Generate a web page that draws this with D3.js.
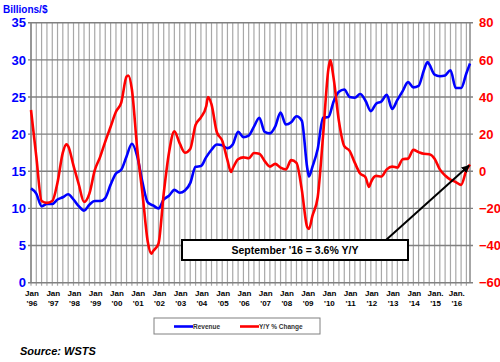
<!DOCTYPE html>
<html>
<head>
<meta charset="utf-8">
<script src="https://cdnjs.cloudflare.com/ajax/libs/d3/7.8.5/d3.min.js"></script>
<style>
  body { margin: 0; background: #fff; }
  svg { display: block; font-family: Arial, "Liberation Sans", sans-serif; }
</style>
</head>
<body>
<div id="chart-container"></div>
<script>
"use strict"

// revenue, billions of $ (3 month average)
const revDates = ["1996-01","1996-04","1996-07","1996-10","1997-01","1997-04","1997-07","1997-10",
  "1998-01","1998-04","1998-07","1998-10","1999-01","1999-04","1999-07","1999-10",
  "2000-01","2000-04","2000-07","2000-10","2001-01","2001-04","2001-07","2001-10",
  "2002-01","2002-04","2002-07","2002-10","2003-01","2003-04","2003-07","2003-10",
  "2004-01","2004-04","2004-07","2004-10","2005-01","2005-04","2005-07","2005-10",
  "2006-01","2006-04","2006-07","2006-10","2007-01","2007-04","2007-07","2007-10",
  "2008-01","2008-04","2008-07","2008-10","2009-01","2009-02","2009-04","2009-07","2009-10",
  "2010-01","2010-04","2010-07","2010-10","2011-01","2011-04","2011-07","2011-10",
  "2012-01","2012-04","2012-07","2012-10","2013-01","2013-04","2013-07","2013-10",
  "2014-01","2014-04","2014-07","2014-09","2014-10","2015-01","2015-04","2015-07","2015-10",
  "2016-01","2016-04","2016-07","2016-09"];
const revValues = [12.7,12.0,10.3,10.6,10.6,11.2,11.5,11.9,
  11.2,10.3,9.7,10.5,11.0,11.0,11.4,13.2,
  14.7,15.2,17.0,18.7,17.0,13.5,10.8,10.4,
  10.0,11.2,11.7,12.5,12.1,12.4,13.4,15.6,
  15.7,16.9,17.9,18.6,18.5,18.1,18.6,20.3,
  19.6,19.8,21.0,22.2,20.3,20.1,21.0,22.9,
  21.3,21.6,22.4,21.8,15.5,14.3,15.6,18.0,22.2,
  22.3,24.4,25.7,26.0,25.0,24.9,25.4,24.5,
  23.1,24.1,24.4,25.3,23.4,24.6,25.8,27.0,
  26.3,26.5,28.6,29.7,29.4,28.0,27.8,27.9,28.6,
  26.2,26.2,28.2,29.5];

// year over year % change
const chgDates = ["1996-01","1996-04","1996-07","1996-10","1997-01","1997-04","1997-07","1997-09","1997-10",
  "1998-01","1998-04","1998-07","1998-10","1999-01","1999-04","1999-07","1999-10",
  "2000-01","2000-04","2000-07","2000-08","2000-10","2001-01","2001-04","2001-07","2001-09","2001-10",
  "2002-01","2002-04","2002-07","2002-10","2003-01","2003-04","2003-07","2003-10",
  "2004-01","2004-04","2004-05","2004-07","2004-10","2005-01","2005-04","2005-06","2005-07","2005-10",
  "2006-01","2006-04","2006-07","2006-10","2007-01","2007-04","2007-07","2007-10",
  "2008-01","2008-04","2008-07","2008-10","2009-01","2009-02","2009-04","2009-07","2009-10",
  "2010-01","2010-02","2010-04","2010-07","2010-10","2011-01","2011-04","2011-07","2011-10",
  "2011-12","2012-01","2012-04","2012-07","2012-10","2013-01","2013-04","2013-07","2013-10",
  "2014-01","2014-04","2014-07","2014-10","2015-01","2015-04","2015-07","2015-10",
  "2016-01","2016-04","2016-07","2016-09"];
const chgValues = [33,8,-16,-17,-16,-6,10,14.5,13.5,
  3,-7,-16.5,-12,0.5,7.5,16,24,
  32,37,51,51.6,44,12,-12,-38,-44.4,-43,
  -39,-12,10,21.5,15,10,12,25,
  29,35,40,36,21,16.5,6,-0.4,1.5,6.5,
  7.5,7,9.8,9.4,5.5,2.5,4,2,
  1,6,4.5,-10,-30,-31,-24,-14,19,
  55,59.7,50,27,13.5,11,4.5,-1.2,-3.2,
  -8.5,-6,-2.5,-2.8,1,2.5,2,6.5,6.8,
  11.5,10.3,9.4,9.2,6.8,1,-2.3,-4.5,
  -5.8,-7.3,0.5,3.6];

const yearLabels = ["'96","'97","'98","'99","'00","'01","'02","'03","'04","'05","'06",
  "'07","'08","'09","'10","'11","'12","'13","'14","'15","'16"];
const monthLabels = ["Jan","Jan","Jan","Jan","Jan","Jan","Jan","Jan","Jan","Jan","Jan",
  "Jan","Jan","Jan","Jan","Jan","Jan","Jan","Jan","Jan.","Jan."];
const leftTicks = [0,5,10,15,20,25,30,35];
const rightTicks = [-60,-40,-20,0,20,40,60,80];
const noteText = "September '16 = 3.6% Y/Y";

document.addEventListener('DOMContentLoaded', function(){
  drawChart();
});

function drawChart(){
  let svgWidth = 500;
  let svgHeight = 362;
  let left = 31, right = 470, top = 22.7, bottom = 282.7;

  let parse = d3.timeParse("%Y-%m");

  var svg = d3.select('#chart-container')
    .append('svg')
    .attr('width', svgWidth)
    .attr('height', svgHeight);

  let xScale = d3.scaleTime()
    .domain([parse("1996-01"), parse("2016-09")])
    .range([left, right]);
  let yLeft = d3.scaleLinear().domain([0, 35]).range([bottom, top]);
  let yRight = d3.scaleLinear().domain([-60, 80]).range([bottom, top]);

  // vertical grid, one line each quarter
  let quarters = d3.timeMonth.every(3).range(parse("1996-01"), parse("2016-10"));
  svg.append("g")
    .selectAll("line")
    .data(quarters)
    .enter()
    .append("line")
    .attr("x1", d => xScale(d))
    .attr("x2", d => xScale(d))
    .attr("y1", top)
    .attr("y2", bottom + 3)
    .attr("stroke", "#a8a8a8")
    .attr("stroke-width", 1.2);

  // horizontal grid
  svg.append("g")
    .selectAll("line")
    .data(leftTicks)
    .enter()
    .append("line")
    .attr("x1", left - 3)
    .attr("x2", right + 3)
    .attr("y1", d => yLeft(d))
    .attr("y2", d => yLeft(d))
    .attr("stroke", "#808080")
    .attr("stroke-width", 1.4);

  // axis lines
  svg.append("line").attr("x1", left).attr("x2", left).attr("y1", top).attr("y2", bottom)
    .attr("stroke", "#808080").attr("stroke-width", 1.4);
  svg.append("line").attr("x1", right).attr("x2", right).attr("y1", top).attr("y2", bottom)
    .attr("stroke", "#808080").attr("stroke-width", 1.4);

  //Left axis labels
  const yAxisL = d3.axisLeft(yLeft).tickValues(leftTicks).tickSize(0).tickPadding(4);
  let gl = svg.append("g")
    .attr("transform", "translate(" + (left - 1) + ", 0)")
    .call(yAxisL);
  gl.select(".domain").remove();
  gl.selectAll("text")
    .attr("fill", "#0000ff")
    .attr("font-size", 13)
    .attr("font-weight", "bold")
    .attr("font-family", "Arial, 'Liberation Sans', sans-serif");

  //Right axis labels
  const yAxisR = d3.axisRight(yRight).tickValues(rightTicks).tickSize(0).tickPadding(9);
  let gr = svg.append("g")
    .attr("transform", "translate(" + right + ", 0)")
    .call(yAxisR);
  gr.select(".domain").remove();
  gr.selectAll("text")
    .attr("fill", "#ff0000")
    .attr("font-size", 13)
    .attr("font-weight", "bold")
    .attr("font-family", "Arial, 'Liberation Sans', sans-serif");

  svg.append("text")
    .attr("x", 3)
    .attr("y", 13)
    .attr("fill", "#0000ff")
    .attr("font-size", 10)
    .attr("font-weight", "bold")
    .text("Billions/$");

  // x labels, two lines
  let janDates = yearLabels.map((d, i) => parse((1996 + i) + "-01"));
  let xl = svg.append("g");
  xl.selectAll("text.m")
    .data(janDates)
    .enter()
    .append("text")
    .attr("class", "m")
    .attr("x", d => xScale(d) + 1)
    .attr("y", 296)
    .attr("text-anchor", "middle")
    .attr("font-size", 8)
    .attr("font-weight", "bold")
    .text((d, i) => monthLabels[i]);
  xl.selectAll("text.y")
    .data(janDates)
    .enter()
    .append("text")
    .attr("class", "y")
    .attr("x", d => xScale(d) + 1)
    .attr("y", 305.5)
    .attr("text-anchor", "middle")
    .attr("font-size", 8)
    .attr("font-weight", "bold")
    .text((d, i) => yearLabels[i]);

  // lines
  let revData = revDates.map((d, i) => ({ date: parse(d), value: revValues[i] }));
  let chgData = chgDates.map((d, i) => ({ date: parse(d), value: chgValues[i] }));

  let revLine = d3.line()
    .x(d => xScale(d.date))
    .y(d => yLeft(d.value))
    .curve(d3.curveMonotoneX);
  let chgLine = d3.line()
    .x(d => xScale(d.date))
    .y(d => yRight(d.value))
    .curve(d3.curveMonotoneX);

  svg.append("path")
    .datum(revData)
    .attr("d", revLine)
    .attr("fill", "none")
    .attr("stroke", "#0000ff")
    .attr("stroke-width", 2.6)
    .attr("stroke-linejoin", "round");

  svg.append("path")
    .datum(chgData)
    .attr("d", chgLine)
    .attr("fill", "none")
    .attr("stroke", "#ff0000")
    .attr("stroke-width", 2.6)
    .attr("stroke-linejoin", "round");

  // annotation arrow and box
  svg.append("defs").append("marker")
    .attr("id", "arrow")
    .attr("viewBox", "0 0 10 10")
    .attr("refX", 9)
    .attr("refY", 5)
    .attr("markerWidth", 4)
    .attr("markerHeight", 4)
    .attr("orient", "auto")
    .append("path")
    .attr("d", "M0,0 L10,5 L0,10 z")
    .attr("fill", "#000");

  let last = chgData[chgData.length - 1];
  svg.append("line")
    .attr("x1", 386)
    .attr("y1", 240)
    .attr("x2", xScale(last.date) - 1)
    .attr("y2", yRight(last.value) + 1)
    .attr("stroke", "#000")
    .attr("stroke-width", 2)
    .attr("marker-end", "url(#arrow)");

  svg.append("rect")
    .attr("x", 182)
    .attr("y", 240)
    .attr("width", 226)
    .attr("height", 20)
    .attr("fill", "#fff")
    .attr("stroke", "#000")
    .attr("stroke-width", 2);
  svg.append("text")
    .attr("x", 295)
    .attr("y", 254)
    .attr("text-anchor", "middle")
    .attr("font-size", 10.5)
    .attr("font-weight", "bold")
    .text(noteText);

  // legend
  let lg = svg.append("g");
  lg.append("rect")
    .attr("x", 154)
    .attr("y", 318)
    .attr("width", 166)
    .attr("height", 16)
    .attr("fill", "#fff")
    .attr("stroke", "#808080")
    .attr("stroke-width", 1);
  let items = [{ name: "Revenue", color: "#0000ff", x: 174 }, { name: "Y/Y % Change", color: "#ff0000", x: 240 }];
  items.forEach(it => {
    lg.append("line")
      .attr("x1", it.x).attr("x2", it.x + 19)
      .attr("y1", 326.5).attr("y2", 326.5)
      .attr("stroke", it.color)
      .attr("stroke-width", 2.6);
    lg.append("text")
      .attr("x", it.x + 19)
      .attr("y", 329)
      .attr("font-size", 6.5)
      .attr("font-weight", "bold")
      .attr("fill", "#333")
      .text(it.name);
  });

  svg.append("text")
    .attr("x", 20)
    .attr("y", 355)
    .attr("font-size", 11)
    .attr("font-weight", "bold")
    .attr("font-style", "italic")
    .text("Source: WSTS");
}
</script>
</body>
</html>
